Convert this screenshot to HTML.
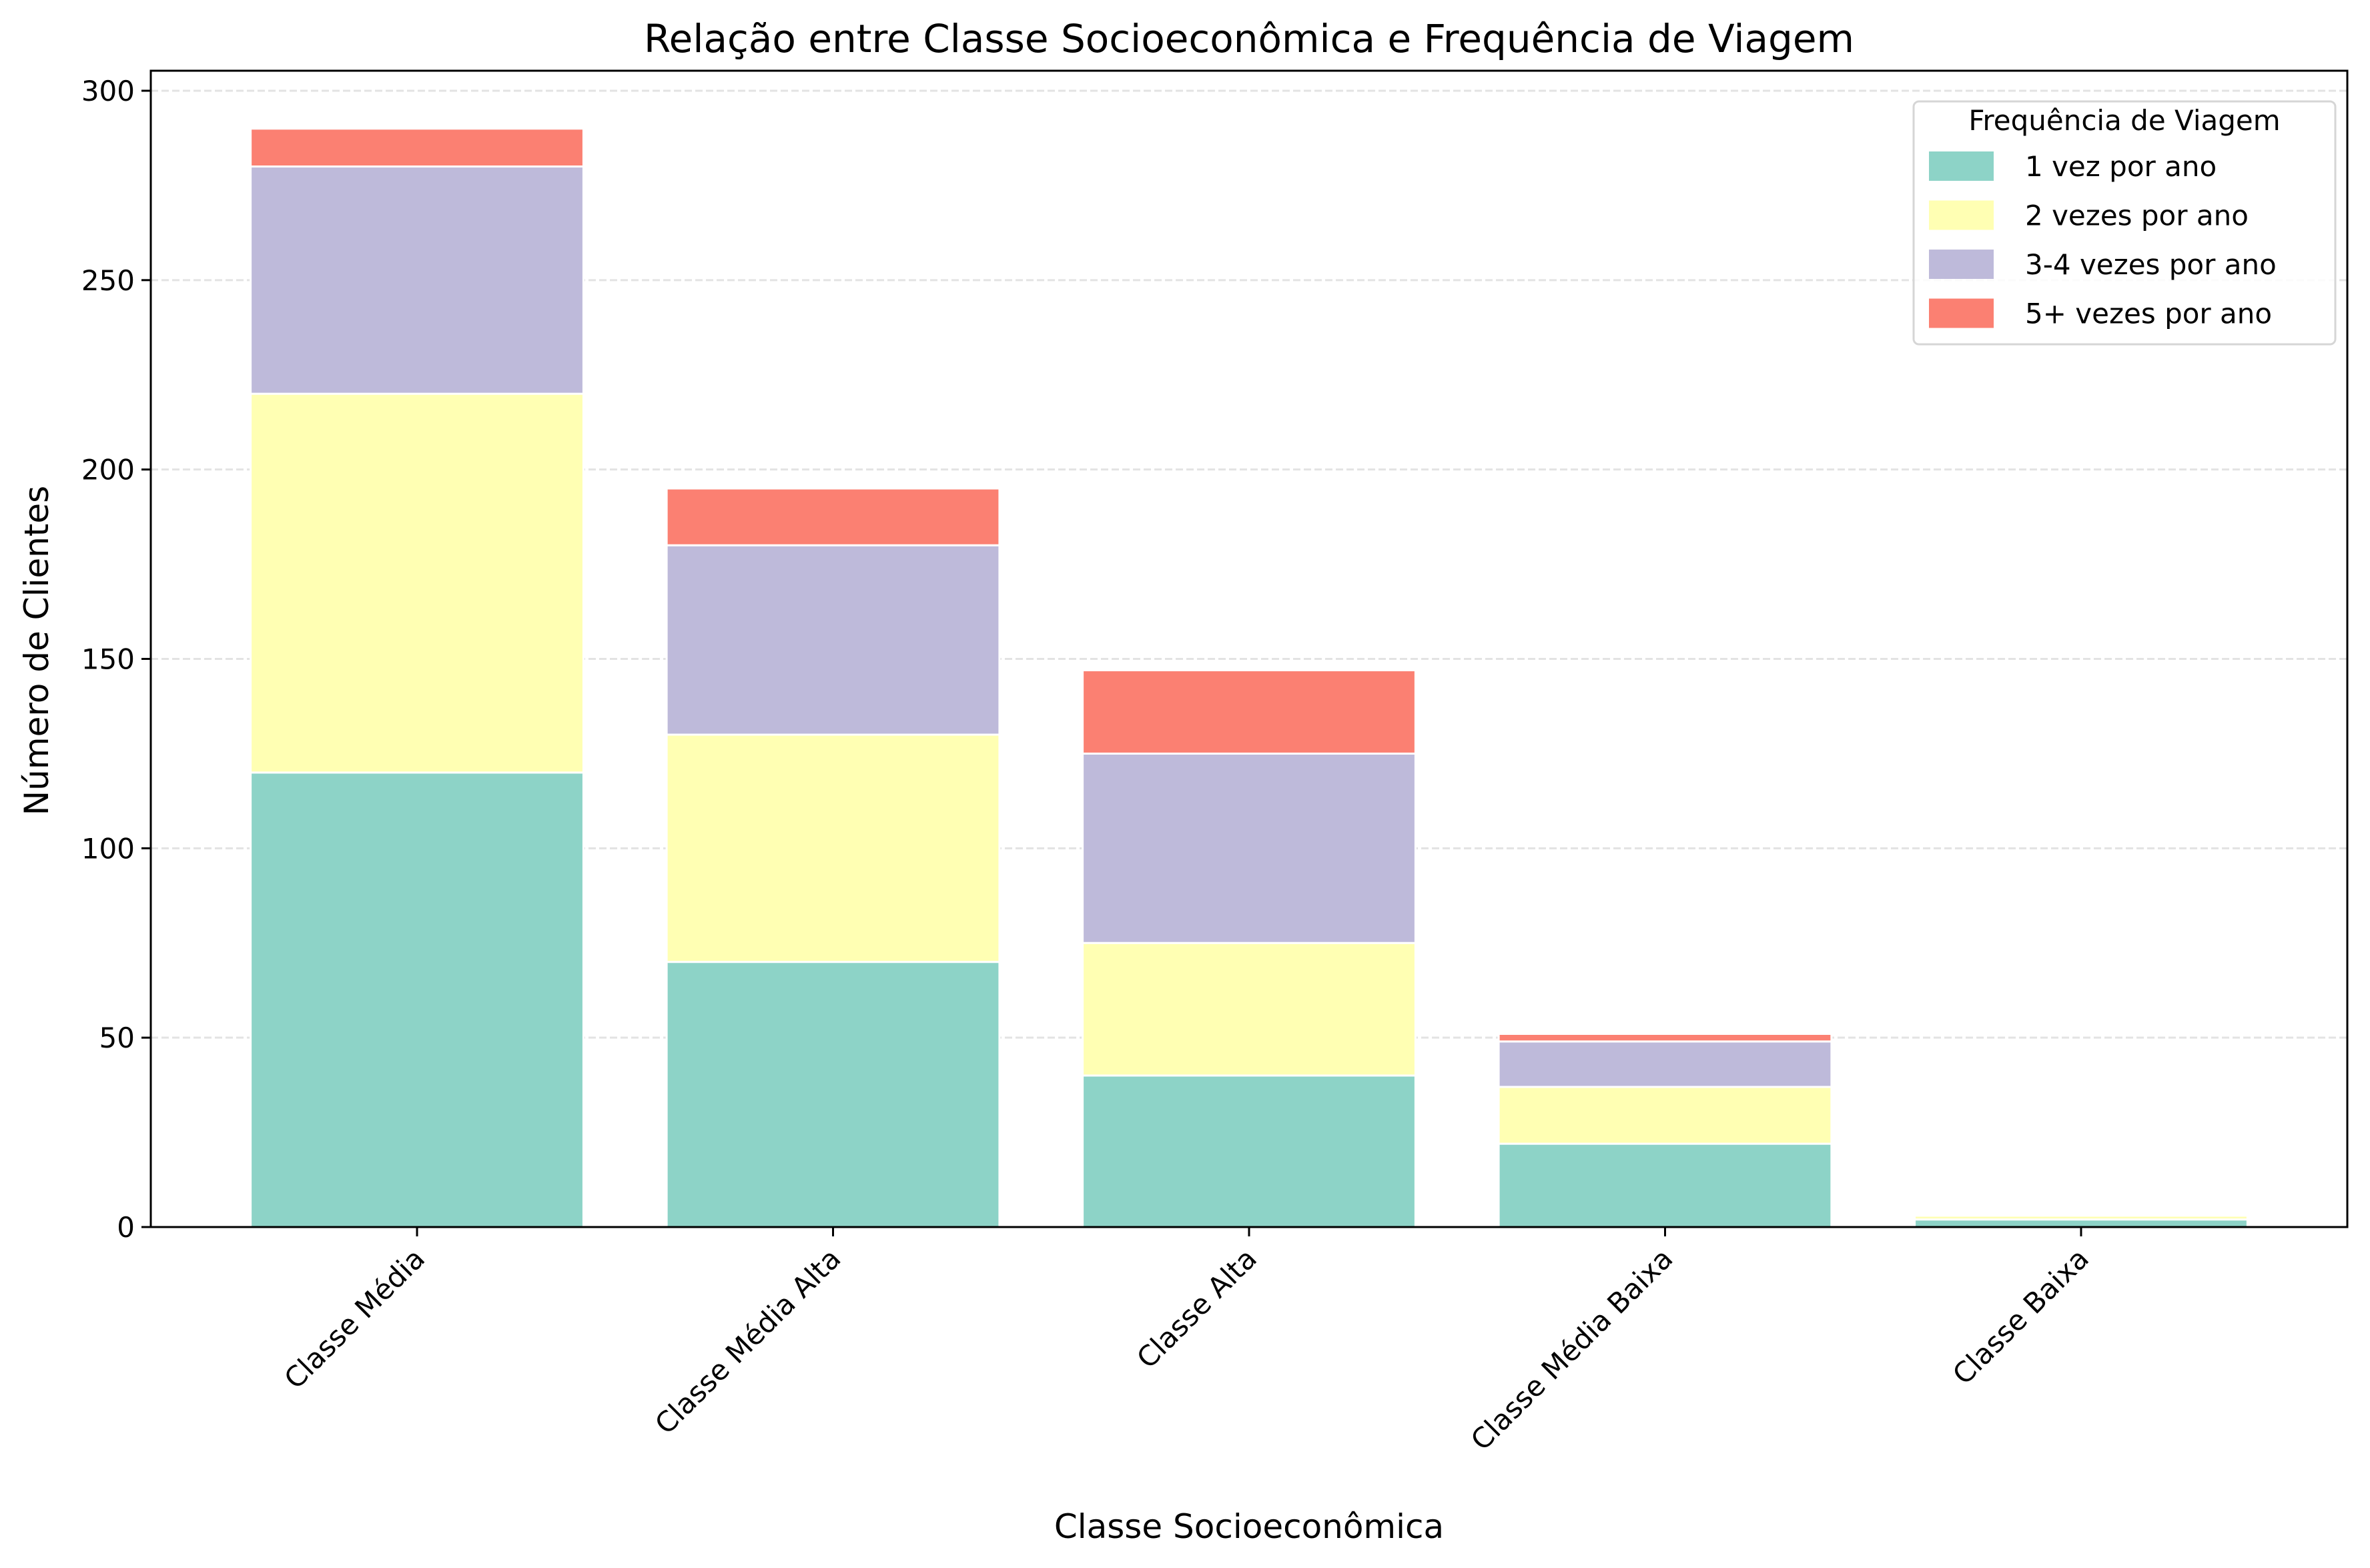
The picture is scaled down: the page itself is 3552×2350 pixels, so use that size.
<!DOCTYPE html>
<html><head><meta charset="utf-8"><style>
html,body{margin:0;padding:0;background:#fff;}
svg{display:block;font-family:"DejaVu Sans","Liberation Sans",sans-serif;}
</style></head><body>
<svg id="chart" width="3552" height="2350" viewBox="0 0 3552 2350" xmlns="http://www.w3.org/2000/svg">
<rect x="0" y="0" width="3552" height="2350" fill="#fff"/>
<g id="grid"></g>
<g id="bars"></g>
<g id="axes"></g>
<text x="1872" y="78" text-anchor="middle" font-size="58">Relação entre Classe Socioeconômica e Frequência de Viagem</text>
<text x="1872" y="2305" text-anchor="middle" font-size="50">Classe Socioeconômica</text>
<text transform="translate(72,975) rotate(-90)" text-anchor="middle" font-size="50">Número de Clientes</text>
<g id="legend"></g>
</svg>
<script>
const categories = ["Classe Média","Classe Média Alta","Classe Alta","Classe Média Baixa","Classe Baixa"];
const seriesNames = ["1 vez por ano","2 vezes por ano","3-4 vezes por ano","5+ vezes por ano"];
const s1 = [120,70,40,22,2];
const s2 = [100,60,35,15,1];
const s3 = [60,50,50,12,0];
const s4 = [10,15,22,2,0];
const yTicks = [0,50,100,150,200,250,300];
const colors = ["#8dd3c7","#ffffb3","#bebada","#fb8072"];
const series = [s1,s2,s3,s4];
const NS="http://www.w3.org/2000/svg";
const L=226,R=3518,T=106,B=1839;
const yMax=305.5;
function y(v){return B-(v/ yMax)*(B-T)*1;} 
// recompute scale so 300 maps at 136
const pxPerUnit=(B-136)/300;
function yy(v){return B-v*pxPerUnit;}
const n=categories.length, step=(R-L)/(n-0.2+0.2)/1;
const slot=(R-L)/(n+0.28);
function xc(i){return L+slot*(0.64+i);}
const bw=slot*0.8;
function mk(tag,attrs,parent){const e=document.createElementNS(NS,tag);for(const k in attrs)e.setAttribute(k,attrs[k]);parent.appendChild(e);return e;}
const grid=document.getElementById('grid'),bars=document.getElementById('bars'),axes=document.getElementById('axes'),legend=document.getElementById('legend');
yTicks.forEach(t=>{
 if(t>0){const g=mk('line',{x1:L,x2:R,y1:yy(t),y2:yy(t),stroke:'#e3e3e3','stroke-width':3,'stroke-dasharray':'11 5'},grid);
 
 }
 const tk=mk('line',{x1:L-14,x2:L,y1:yy(t),y2:yy(t),stroke:'#000','stroke-width':3},axes);
 
 
 const tl=mk('text',{x:L-24,y:yy(t)+15,'text-anchor':'end','font-size':42},axes);
 tl.textContent=t;
 
 
});
categories.forEach((c,i)=>{
 let base=0;
 series.forEach((s,j)=>{
  const v=s[i];
  if(v>0){
   const r=mk('rect',{x:xc(i)-bw/2,y:yy(base+v),width:bw,height:v*pxPerUnit,fill:colors[j],stroke:'#fff','stroke-width':3},bars);
   
   
  }
  base+=v;
 });
 const tk=mk('line',{x1:xc(i),x2:xc(i),y1:B,y2:B+14,stroke:'#000','stroke-width':3},axes);
 
 
 const tl=mk('text',{transform:`translate(${xc(i)+14},${B+50}) rotate(-45)`,'text-anchor':'end','font-size':42},axes);
 tl.textContent=c;
 
 
});
const frame=mk('rect',{x:L,y:T,width:R-L,height:B-T,fill:'none',stroke:'#000','stroke-width':3},axes);


// legend
const lb=mk('rect',{x:2868,y:152,width:632,height:364,rx:8,fill:'#fff','fill-opacity':0.85,stroke:'#d6d6d6','stroke-width':3},legend);


const lt=mk('text',{x:3184,y:195,'text-anchor':'middle','font-size':42},legend);
lt.textContent='Frequência de Viagem';


seriesNames.forEach((nm,j)=>{
 const yc=249+j*73.5;
 const p=mk('rect',{x:2891,y:yc-22,width:97,height:44,fill:colors[j]},legend);
 
 
 const t=mk('text',{x:3035,y:yc+15,'font-size':42},legend);
 t.textContent=nm;
 
 
});
</script>
</body></html>
